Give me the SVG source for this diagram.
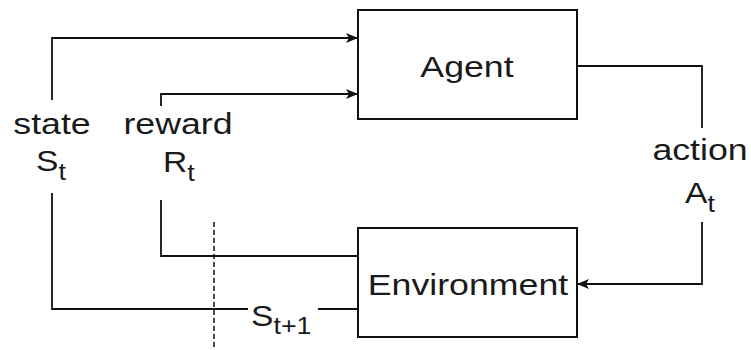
<svg xmlns="http://www.w3.org/2000/svg" width="751" height="350" viewBox="0 0 751 350">
<style>
.box{fill:#fff;stroke:#111;stroke-width:2}
.ln{fill:none;stroke:#111;stroke-width:1.8}
.dash{fill:none;stroke:#111;stroke-width:1.5;stroke-dasharray:5 3}
text{font-family:"Liberation Sans",Arial,sans-serif;fill:#1a1a1a;font-size:30px}
.sub{font-size:24px}
</style>
<defs>
<marker id="ah" viewBox="0 0 12 10" refX="12" refY="5" markerWidth="12" markerHeight="10" markerUnits="userSpaceOnUse" orient="auto">
<path d="M0,0 L12,5 L0,10 L3,5 Z" fill="#111"/>
</marker>
</defs>
<rect width="751" height="350" fill="#fff"/>
<g id="agent">
<rect class="box" x="358" y="10" width="219" height="109"/>
<text transform="translate(467,77) scale(1.19,1)" text-anchor="middle">Agent</text>
</g>
<g id="environment">
<rect class="box" x="358" y="228" width="219" height="109"/>
<text transform="translate(468,295) scale(1.19,1)" text-anchor="middle">Environment</text>
</g>
<g id="connectors">
<path class="ln" d="M52,100 V38 H358" marker-end="url(#ah)"/>
<path class="ln" d="M52,193 V309 H248"/>
<path class="ln" d="M318,309 H358"/>
<path class="ln" d="M161,106 V94 H358" marker-end="url(#ah)"/>
<path class="ln" d="M161,200 V256 H358"/>
<path class="ln" d="M577,66 H702 V128"/>
<path class="ln" d="M702,222 V284 H577" marker-end="url(#ah)"/>
<path class="dash" d="M214,222 V348"/>
</g>
<g id="labels">
<text transform="translate(52,134) scale(1.19,1)" text-anchor="middle">state</text>
<text transform="translate(36,171) scale(1.12,1)">S<tspan class="sub" dy="9">t</tspan></text>
<text transform="translate(178,134) scale(1.19,1)" text-anchor="middle">reward</text>
<text transform="translate(163,172) scale(1.12,1)">R<tspan class="sub" dy="9">t</tspan></text>
<text transform="translate(700,160) scale(1.19,1)" text-anchor="middle">action</text>
<text transform="translate(685,203) scale(1.12,1)">A<tspan class="sub" dy="9">t</tspan></text>
<text transform="translate(251,326) scale(1.12,1)">S<tspan class="sub" dy="8">t+1</tspan></text>
</g>
</svg>
